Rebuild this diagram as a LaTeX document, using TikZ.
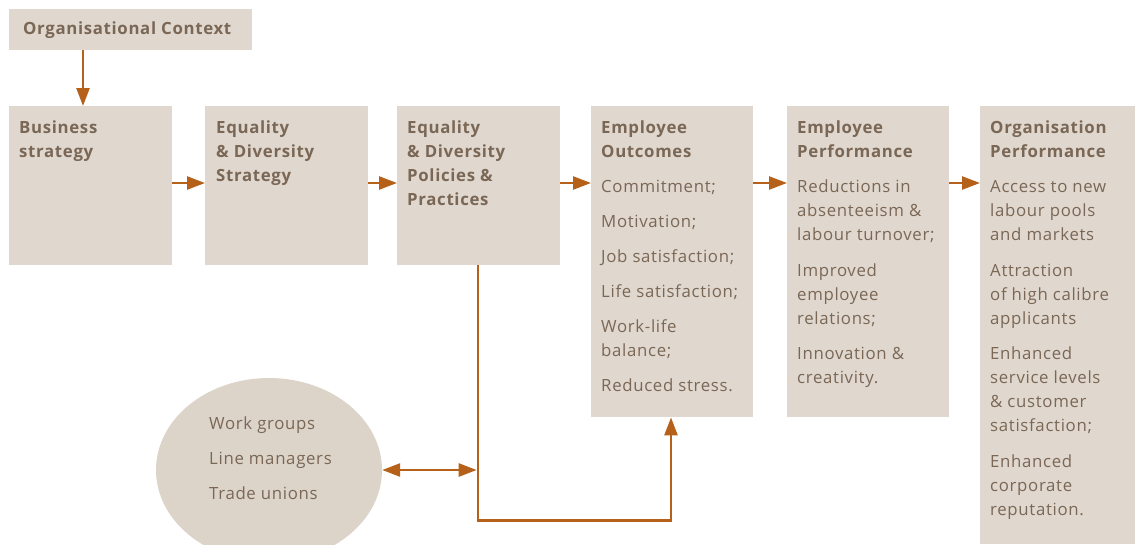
\documentclass[tikz,border=0pt]{standalone}
\usepackage{fontspec}
\setmainfont{Open Sans}[LetterSpace=4]
\usetikzlibrary{arrows.meta,calc,shapes.geometric}
\definecolor{boxc}{HTML}{E0D8CE}
\definecolor{ellc}{HTML}{DCD4C9}
\definecolor{txtc}{HTML}{7A6756}
\definecolor{arrc}{HTML}{B5611A}
\newcommand\stk[1]{\begin{tabular}[t]{@{}l@{}}#1\end{tabular}}
\begin{document}
\begin{tikzpicture}[x=1pt,y=-1pt,
  box/.style={fill=boxc, draw=none, inner sep=0pt, anchor=north west},
  txt/.style={anchor=base west, inner sep=0pt, text=txtc, font=\fontsize{16.8}{24}\selectfont},
  conn/.style={draw=arrc, line width=2.5pt, -{Triangle[length=18pt,width=13pt]}},
  dconn/.style={draw=arrc, line width=2.5pt, {Triangle[length=18pt,width=13pt]}-{Triangle[length=18pt,width=13pt]}}]
\useasboundingbox (0,0) rectangle (1135,544);
\clip (0,0) rectangle (1135,544);
% boxes
\node[box, minimum width=243pt, minimum height=41pt] (oc) at (9,9) {};
\node[box, minimum width=163pt, minimum height=159pt] (bs) at (9,106) {};
\node[box, minimum width=163pt, minimum height=159pt] (eds) at (205,106) {};
\node[box, minimum width=163pt, minimum height=159pt] (edp) at (397,106) {};
\node[box, minimum width=162pt, minimum height=311pt] (eo) at (591,106) {};
\node[box, minimum width=162pt, minimum height=311pt] (ep) at (787,106) {};
\node[box, minimum width=155pt, minimum height=438pt] (op) at (980,106) {};
\node[ellipse, fill=ellc, draw=none, inner sep=0pt, minimum width=226pt, minimum height=184pt] (ell) at (269,470) {};
% texts
\node[txt] (toc) at (23,34) {\textbf{Organisational Context}};
\node[txt] (tbs) at (19,133) {\stk{\textbf{Business}\\ \textbf{strategy}}};
\node[txt] (teds) at (216,133) {\stk{\textbf{Equality}\\ \textbf{\& Diversity}\\ \textbf{Strategy}}};
\node[txt] (tedp) at (407,133) {\stk{\textbf{Equality}\\ \textbf{\& Diversity}\\ \textbf{Policies \&}\\ \textbf{Practices}}};
\node[txt] (teo) at (601,133) {\stk{\textbf{Employee}\\ \textbf{Outcomes}\\[11pt] Commitment;\\[11pt] Motivation;\\[11pt] Job satisfaction;\\[11pt] Life satisfaction;\\[11pt] Work-life\\ balance;\\[11pt] Reduced stress.}};
\node[txt] (tep) at (797,133) {\stk{\textbf{Employee}\\ \textbf{Performance}\\[11pt] Reductions in\\ absenteeism \&\\ labour turnover;\\[12pt] Improved\\ employee\\ relations;\\[11pt] Innovation \&\\ creativity.}};
\node[txt] (top) at (990,133) {\stk{\textbf{Organisation}\\ \textbf{Performance}\\[11pt] Access to new\\ labour pools\\ and markets\\[12pt] Attraction\\ of high calibre\\ applicants\\[11pt] Enhanced\\ service levels\\ \& customer\\ satisfaction;\\[12pt] Enhanced\\ corporate\\ reputation.}};
\node[txt, font=\fontsize{16.8}{35}\selectfont] (tell) at (209,429) {\stk{Work groups\\ Line managers\\ Trade unions}};
% connectors
\draw[conn] ($(oc.south west)+(74,0)$) -- ($(bs.north west)+(74,0)$);
\draw[conn] ($(bs.north east)+(0,77)$) -- ($(eds.north west)+(0,77)$);
\draw[conn] ($(eds.north east)+(0,77)$) -- ($(edp.north west)+(0,77)$);
\draw[conn] ($(edp.north east)+(0,77)$) -- ($(eo.north west)+(0,77)$);
\draw[conn] ($(eo.north east)+(0,77)$) -- ($(ep.north west)+(0,77)$);
\draw[conn] ($(ep.north east)+(0,77)$) -- ($(op.north west)+(0,77)$);
\coordinate (pv) at ($(edp.south west)+(81,0)$);
\coordinate (pe) at ($(eo.south west)+(80,0)$);
\draw[conn] (pv) |- ($(pe)+(0,103)$) -- (pe);
\draw[dconn, shorten >=1.3pt] (ell.east) -- (ell.east -| pv);
\end{tikzpicture}
\end{document}
